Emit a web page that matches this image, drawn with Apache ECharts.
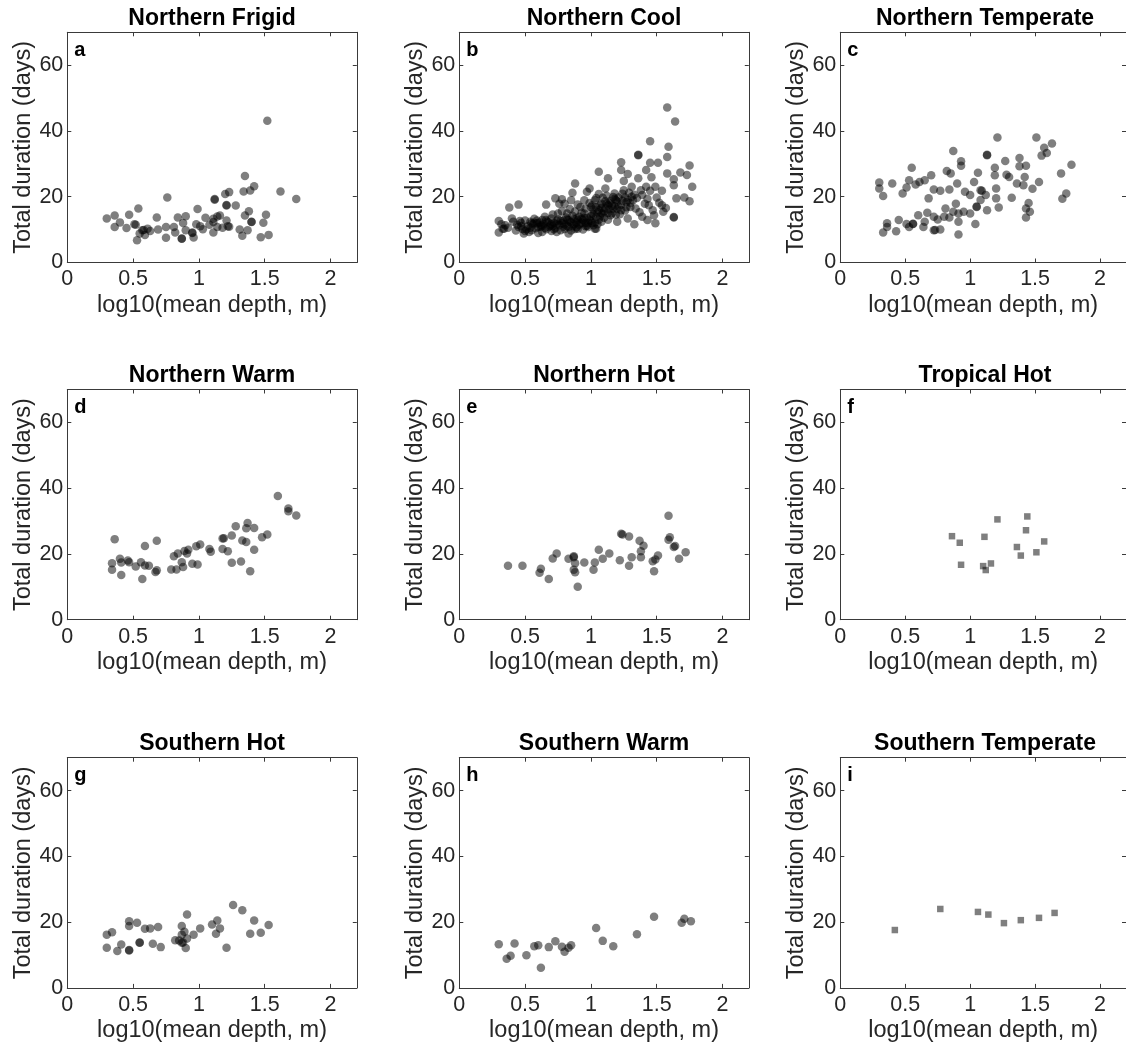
<!DOCTYPE html>
<html><head><meta charset="utf-8">
<script src="https://cdn.jsdelivr.net/npm/echarts@6/dist/echarts.min.js"></script>
<style>html,body{margin:0;padding:0;background:#fff}#c{width:1126px;height:1047px}</style>
</head><body><div id="c"></div>
<script>
const titles = ['Northern Frigid','Northern Cool','Northern Temperate','Northern Warm','Northern Hot','Tropical Hot','Southern Hot','Southern Warm','Southern Temperate'];
const letters = ['a','b','c','d','e','f','g','h','i'];
const shapes = ['circle','circle','circle','circle','circle','rect','circle','circle','rect'];
const xTicks = [0, 0.5, 1, 1.5, 2];
const yTicks = [0, 20, 40, 60];
const xName = 'log10(mean depth, m)';
const yName = 'Total duration (days)';

const dataA = [[1.52,43.1],[1.35,26.3],[1.42,23.2],[1.34,21.6],[1.39,21.9],[1.62,21.6],[1.74,19.3],[0.76,19.8],[1.20,20.8],[1.23,21.4],[1.12,19.1],[1.21,17.3],[1.28,17.3],[0.99,16.3],[1.38,15.6],[1.35,14.3],[1.51,14.5],[0.54,16.4],[0.47,14.5],[0.36,14.3],[0.30,13.4],[0.68,13.7],[0.84,13.7],[0.90,14.1],[1.05,13.6],[1.11,13.3],[1.14,14.0],[1.16,14.3],[0.40,12.2],[0.36,10.8],[0.45,10.5],[0.51,11.6],[0.57,9.8],[0.61,10.3],[0.63,9.6],[0.55,8.8],[0.59,8.4],[0.53,6.8],[0.69,10.0],[0.75,10.8],[0.75,7.5],[0.81,10.8],[0.82,9.1],[0.87,7.2],[0.88,12.0],[0.90,9.8],[0.95,9.1],[0.96,7.6],[0.98,11.6],[1.01,11.0],[1.03,10.1],[1.08,11.5],[1.11,9.1],[1.14,10.8],[1.18,10.6],[1.23,10.9],[1.31,10.0],[1.33,8.1],[1.37,9.8],[1.40,12.4],[1.49,12.1],[1.47,7.7],[1.53,8.4],[1.21,12.8],[1.11,12.3],[1.12,19.3],[0.52,11.5],[0.58,9.9],[0.87,7.3],[0.95,9.0],[1.21,17.5],[1.22,11.0],[1.40,12.3]];

const dataB = [[1.58,47.1],[1.64,42.9],[1.45,36.9],[1.59,35.2],[1.36,32.6],[1.36,32.8],[1.58,32.1],[1.23,30.5],[1.45,30.3],[1.51,30.3],[1.75,29.5],[1.23,28.1],[1.28,26.9],[1.42,28.1],[1.06,27.6],[1.58,27.1],[1.68,27.4],[1.73,26.6],[1.13,25.6],[1.36,25.6],[1.46,25.9],[1.63,25.3],[1.63,23.5],[1.77,23.0],[1.25,24.8],[1.49,23.0],[1.42,23.0],[1.54,21.8],[1.31,23.0],[1.65,19.5],[1.71,19.8],[1.75,18.6],[1.18,21.0],[1.11,22.5],[1.50,19.8],[1.54,17.4],[1.44,17.4],[1.47,15.9],[1.55,15.4],[1.63,13.7],[1.63,13.8],[1.49,11.9],[1.39,13.9],[1.33,11.6],[1.28,13.4],[1.22,14.7],[1.34,16.4],[1.41,17.9],[1.39,20.5],[1.31,20.0],[1.25,22.0],[1.28,19.0],[1.19,19.0],[1.13,17.4],[1.08,17.9],[1.06,15.9],[1.15,14.4],[1.20,12.4],[1.08,12.4],[1.04,10.3],[1.13,13.0],
[0.88,24.0],[0.86,21.2],[0.97,21.5],[0.99,22.5],[0.73,19.5],[0.78,19.2],[0.66,17.6],[0.76,17.9],[0.80,17.9],[0.85,18.9],[0.95,18.9],[1.03,18.9],[1.01,17.4],[0.92,16.9],[0.82,14.9],[0.75,14.9],[0.70,13.4],[0.95,14.9],[1.01,14.9],[0.89,13.4],[0.96,12.1],[1.03,10.3],[0.90,12.9],[0.78,11.9],[0.83,10.8],[0.98,10.8],[0.90,10.3],[0.83,8.8],[0.74,9.3],[0.68,10.8],[0.63,12.9],[0.59,11.9],[0.63,9.3],
[0.38,16.7],[0.45,17.6],[0.30,12.6],[0.30,9.1],[0.33,10.3],[0.40,13.4],[0.35,11.3],[0.41,12.4],[0.47,12.1],[0.54,12.4],[0.45,10.8],[0.49,8.8],[0.55,9.8],[0.34,10.3],
[0.44,11.5],[0.48,10.2],[0.50,12.8],[0.52,11.0],[0.53,9.3],[0.56,11.6],[0.57,13.3],[0.58,10.4],[0.60,9.0],[0.61,12.2],[0.62,10.9],[0.64,11.7],[0.65,13.9],[0.66,10.1],[0.67,12.5],[0.69,11.2],[0.70,9.6],[0.71,14.6],[0.72,12.0],[0.73,10.5],[0.75,13.1],[0.76,11.4],[0.77,9.8],[0.78,15.6],[0.79,12.8],[0.80,10.2],[0.81,13.7],[0.82,11.1],[0.84,16.3],[0.84,12.4],[0.85,9.7],[0.86,14.2],[0.87,11.6],[0.88,15.5],[0.89,10.7],[0.90,17.6],[0.91,13.9],[0.92,11.8],[0.93,15.1],[0.94,12.9],[0.94,10.0],[0.96,16.4],[0.97,13.6],[0.98,11.9],[0.99,18.1],[1.00,14.1],[1.00,12.6],[1.02,16.1],[1.02,11.3],[1.04,19.6],[1.04,13.8],[1.05,15.3],[1.06,20.8],[1.07,14.0],[1.08,16.6],[1.09,19.7],[1.10,15.5],[1.10,13.6],[1.12,17.9],[1.12,20.3],[1.14,16.2],[1.15,18.8],[1.16,15.0],[1.17,19.9],[1.18,17.1],[1.19,14.6],[1.20,16.3],[1.21,19.8],[1.23,17.6],[1.24,20.9],[1.26,15.8],[1.27,18.3],[1.29,21.2],[1.30,16.9],[1.32,18.9],[1.35,19.6],[1.37,15.3],[1.38,22.0],[1.43,19.4],[1.45,21.8],[1.52,18.2],[1.57,16.6],[1.48,14.4],[1.43,12.9],
[0.46,12.6],[0.51,10.1],[0.55,11.9],[0.59,12.8],[0.62,11.4],[0.66,12.9],[0.71,11.1],[0.74,12.6],[0.79,10.9],[0.83,12.9],[0.86,11.0],[0.89,12.2],[0.93,13.2],[0.97,11.2],[1.00,16.9],[1.03,12.2],[1.06,13.0],[1.09,14.8],[1.11,16.4],[1.14,18.0],[1.17,16.4],[1.20,18.6],[1.23,15.9],[1.26,19.8],
[0.32,11.6],[0.37,10.6],[0.43,9.7],[0.47,11.1],[0.50,9.6],[0.54,10.6],[0.57,12.1],[0.60,10.8],[0.63,11.1],[0.65,10.5],[0.68,12.2],[0.70,11.6],[0.72,10.1],[0.74,11.6],[0.77,12.6],[0.80,11.6],[0.82,13.1],[0.85,12.2],[0.87,13.2],[0.88,10.2],[0.91,11.4],[0.93,12.1],[0.95,13.6],[0.96,11.0],[0.99,13.0],[1.01,12.0],[1.02,14.6],[1.04,16.8],[1.05,11.6],[1.07,17.4],[1.08,15.0],[1.11,18.6],[1.13,15.1],[1.16,17.3],[1.18,19.4],[1.21,17.0],[1.24,18.8],[1.27,16.8],[1.30,18.1],[1.33,20.6]];

const dataC = [[1.21,38.0],[1.51,38.0],[1.63,36.2],[1.57,34.9],[1.55,32.5],[1.59,33.3],[0.87,33.9],[1.13,32.6],[1.13,32.8],[0.93,30.8],[0.93,29.4],[1.27,30.9],[1.38,31.8],[1.38,29.3],[1.43,29.4],[1.78,29.7],[1.19,28.8],[0.55,28.8],[0.82,27.8],[0.85,27.1],[1.06,27.3],[1.19,26.5],[1.28,26.7],[1.30,26.0],[0.70,26.5],[0.65,25.0],[0.61,24.5],[0.53,25.0],[0.58,23.7],[1.70,27.1],[1.42,26.0],[1.36,24.0],[1.41,23.5],[1.53,24.5],[0.30,24.3],[0.40,24.0],[0.30,22.5],[0.51,22.8],[0.48,21.0],[0.33,20.2],[0.72,22.2],[0.77,21.8],[0.84,22.2],[0.90,24.0],[1.03,24.5],[0.96,21.5],[1.00,20.5],[1.08,22.0],[1.09,21.8],[1.12,20.5],[1.20,22.5],[1.20,19.5],[1.32,19.7],[1.48,22.4],[1.74,21.0],[1.71,19.4],[0.68,19.5],[0.89,17.9],[0.81,16.4],[0.87,15.4],[0.91,14.9],[0.95,15.4],[1.00,14.9],[1.05,16.9],[1.05,17.0],[1.08,19.0],[1.13,15.9],[1.22,16.7],[1.45,18.1],[1.43,16.4],[1.46,15.4],[1.43,13.7],[0.60,14.4],[0.67,15.1],[0.72,13.9],[0.75,13.1],[0.80,13.9],[0.84,13.7],[0.91,12.4],[1.04,11.7],[0.65,12.4],[0.56,11.7],[0.56,11.8],[0.51,11.7],[0.45,12.9],[0.36,11.9],[0.33,9.1],[0.36,10.8],[0.43,9.5],[0.53,10.8],[0.64,10.8],[0.72,9.8],[0.73,9.9],[0.77,10.0],[0.91,8.5]];

const dataD = [[1.60,37.6],[1.68,33.8],[1.68,33.0],[1.74,31.7],[1.37,29.4],[1.28,28.4],[1.36,27.8],[1.42,27.9],[1.52,25.9],[1.48,25.1],[1.18,24.7],[1.19,24.8],[1.25,25.6],[1.33,24.1],[1.36,23.6],[1.42,21.3],[1.18,21.5],[1.22,20.8],[1.08,21.5],[1.09,20.7],[1.01,22.9],[0.98,22.3],[0.92,21.3],[0.91,20.1],[0.89,20.9],[0.84,20.1],[0.81,19.3],[0.87,17.5],[0.88,16.0],[0.83,15.3],[0.79,15.3],[0.95,17.0],[0.99,16.8],[1.25,17.3],[1.32,17.7],[1.39,14.7],[0.36,24.5],[0.59,22.4],[0.68,24.0],[0.34,17.2],[0.34,15.2],[0.40,18.5],[0.41,17.4],[0.46,18.0],[0.47,17.5],[0.52,16.2],[0.56,17.5],[0.59,16.5],[0.62,16.4],[0.41,13.6],[0.57,12.4],[0.67,14.5],[0.68,15.0]];

const dataE = [[1.59,31.6],[1.60,25.1],[1.59,24.3],[1.64,22.4],[1.63,22.1],[1.67,18.5],[1.72,20.5],[1.23,26.1],[1.24,25.9],[1.29,25.3],[1.37,24.0],[1.40,22.5],[1.38,20.8],[1.38,19.0],[1.51,19.5],[1.47,17.8],[1.49,18.3],[1.48,14.7],[1.31,19.0],[1.29,16.4],[1.22,18.1],[1.14,20.1],[1.09,18.5],[1.06,21.3],[1.03,17.4],[1.02,15.2],[0.95,17.4],[0.87,19.3],[0.87,19.0],[0.83,18.5],[0.88,17.2],[0.87,15.2],[0.88,14.4],[0.90,10.0],[0.74,20.1],[0.71,18.6],[0.62,15.5],[0.61,14.3],[0.68,12.4],[0.48,16.4],[0.37,16.4]];

const dataF = [[1.44,31.4],[1.21,30.5],[1.43,27.2],[0.86,25.4],[0.92,23.4],[1.11,25.2],[1.57,23.8],[1.36,22.1],[1.39,19.5],[1.51,20.5],[0.93,16.7],[1.10,16.3],[1.16,17.1],[1.12,15.1]];

const dataG = [[1.26,25.2],[1.33,23.6],[0.91,22.3],[1.14,20.5],[1.42,20.5],[1.53,19.1],[1.10,19.3],[1.16,18.1],[1.13,16.5],[1.39,16.5],[1.47,16.8],[1.21,12.2],[1.01,18.1],[0.96,16.2],[0.87,18.8],[0.89,17.1],[0.87,16.2],[0.91,15.0],[0.82,14.5],[0.87,13.7],[0.88,13.8],[0.90,12.1],[0.85,14.4],[0.47,20.3],[0.53,19.8],[0.47,18.8],[0.59,18.0],[0.63,18.1],[0.69,18.5],[0.30,16.2],[0.34,16.9],[0.30,12.2],[0.41,13.2],[0.38,11.2],[0.47,11.4],[0.47,11.5],[0.55,13.7],[0.55,13.8],[0.65,13.4],[0.71,12.4]];

const dataH = [[1.48,21.6],[1.71,21.0],[1.69,19.8],[1.76,20.3],[1.04,18.2],[1.35,16.3],[1.09,14.3],[1.17,12.7],[0.30,13.3],[0.42,13.5],[0.57,12.7],[0.60,13.0],[0.68,12.4],[0.73,14.2],[0.78,12.5],[0.80,11.0],[0.83,12.2],[0.85,13.0],[0.39,9.8],[0.36,8.9],[0.51,9.9],[0.62,6.1]];

const dataI = [[0.42,17.6],[0.77,24.0],[1.06,23.1],[1.14,22.3],[1.26,19.7],[1.39,20.6],[1.53,21.3],[1.65,22.8]];

const panels = [dataA, dataB, dataC, dataD, dataE, dataF, dataG, dataH, dataI];

// layout (pixels)
const colLeft = [67.3, 459.3, 840.3];
const rowTop = [32.3, 389.5, 757.7];
const plotW = 289.5, plotH = 230.2;
const FONT = "'Liberation Sans', Arial, Helvetica, sans-serif";
const AX = '#262626';

const chart = echarts.init(document.getElementById('c'), null, {renderer: 'canvas'});
const grid = [], xAxis = [], yAxis = [], series = [], graphic = [];

panels.forEach((data, i) => {
  const r = Math.floor(i / 3), c = i % 3;
  grid.push({left: colLeft[c], top: rowTop[r], width: plotW, height: plotH, containLabel: false});
  const lineStyle = {color: '#3a3a3a', width: 1};
  xAxis.push({gridIndex: i, type: 'value', min: 0, max: 2.2, interval: 0.5, position: 'bottom',
    name: xName, nameLocation: 'middle', nameGap: 31,
    nameTextStyle: {fontFamily: FONT, fontSize: 23.5, color: AX},
    axisLine: {show: true, onZero: false, lineStyle},
    axisTick: {show: true, inside: true, length: 4, lineStyle, customValues: xTicks},
    axisLabel: {show: true, margin: 6, fontFamily: FONT, fontSize: 21.5, color: AX, customValues: xTicks},
    splitLine: {show: false}});
  xAxis.push({gridIndex: i, type: 'value', min: 0, max: 2.2, interval: 0.5, position: 'top',
    axisLine: {show: true, onZero: false, lineStyle},
    axisTick: {show: true, inside: true, length: 4, lineStyle, customValues: xTicks},
    axisLabel: {show: false}, splitLine: {show: false}});
  yAxis.push({gridIndex: i, type: 'value', min: 0, max: 70, interval: 20, position: 'left',
    name: yName, nameLocation: 'middle', nameGap: 29, nameRotate: 90,
    nameTextStyle: {fontFamily: FONT, fontSize: 23.5, color: AX},
    axisLine: {show: true, onZero: false, lineStyle},
    axisTick: {show: true, inside: true, length: 4, lineStyle, customValues: yTicks},
    axisLabel: {show: true, margin: 4, fontFamily: FONT, fontSize: 21.5, color: AX, customValues: yTicks},
    splitLine: {show: false}});
  yAxis.push({gridIndex: i, type: 'value', min: 0, max: 70, interval: 20, position: 'right',
    axisLine: {show: true, onZero: false, lineStyle},
    axisTick: {show: true, inside: true, length: 4, lineStyle, customValues: yTicks},
    axisLabel: {show: false}, splitLine: {show: false}});

  series.push({type: 'scatter', xAxisIndex: i * 2, yAxisIndex: i * 2, data,
    symbol: shapes[i], symbolSize: shapes[i] === 'rect' ? 6.5 : 8.5,
    itemStyle: {color: '#000', opacity: 0.5, borderWidth: 0},
    emphasis: {disabled: true}, silent: true, animation: false});

  const cx = colLeft[c] + plotW / 2;
  graphic.push({type: 'text', x: cx, y: rowTop[r] - 14, silent: true,
    style: {text: titles[i], font: `bold 23px ${FONT}`, fill: '#000',
      align: 'center', verticalAlign: 'middle', textAlign: 'center', textVerticalAlign: 'middle'}});
  graphic.push({type: 'text', x: colLeft[c] + 7, y: rowTop[r] + 18, silent: true,
    style: {text: letters[i], font: `bold 20px ${FONT}`, fill: '#000',
      align: 'left', verticalAlign: 'middle', textAlign: 'left', textVerticalAlign: 'middle'}});
});

chart.setOption({
  backgroundColor: '#fff',
  animation: false,
  grid, xAxis, yAxis, series, graphic
});
</script>
</body></html>
